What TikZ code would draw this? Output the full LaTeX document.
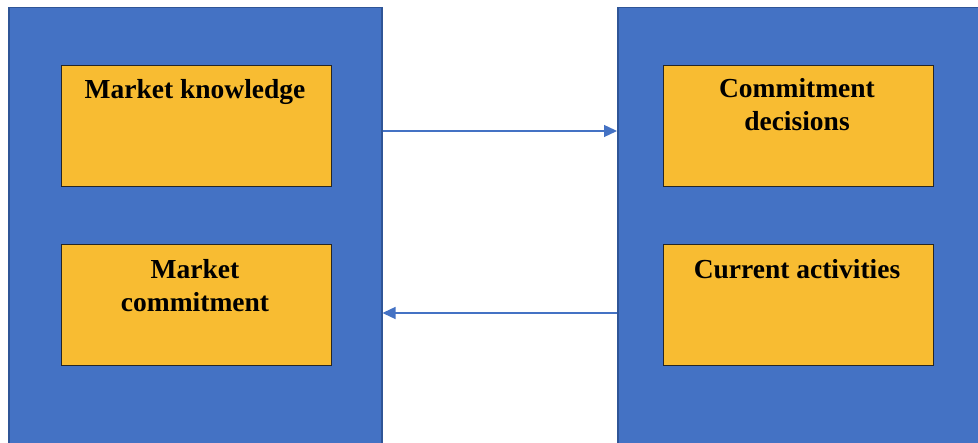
\documentclass[tikz,border=0pt]{standalone}
\usepackage{fontspec}
\setmainfont{Liberation Serif}
\usetikzlibrary{arrows.meta}
\usetikzlibrary{positioning}
\definecolor{panelblue}{HTML}{4472C4}
\definecolor{paneledge}{HTML}{2F5597}
\definecolor{boxyellow}{HTML}{F8BC32}
\tikzset{panel/.style = {draw=paneledge, line width=1.5pt, fill=panelblue,
                         anchor=north west, inner sep=0pt},
         factor/.style = {draw=black!85, line width=1.4pt, fill=boxyellow,
                          anchor=north west, inner sep=0pt,
                          minimum width=270pt, minimum height=121pt},
         title/.style = {font=\bfseries\fontsize{27.5}{33}\selectfont,
                         align=center, inner sep=0pt, anchor=base},
         link/.style = {draw=panelblue, line width=1.3pt,
                        -{Triangle[length=13pt, width=12pt]}}}

\begin{document}
\begin{tikzpicture}[x=1pt, y=-1pt]
      \useasboundingbox (0, 0) rectangle (978, 443);
      \clip (0, 0) rectangle (978, 443);

      % state and change aspects
      \node [panel, minimum width=373pt, minimum height=450pt] (state) at (8, 7) {};
      \node [panel, minimum width=370pt, minimum height=450pt] (change) at (617, 7) {};

      \node [factor] (know) at (61, 65) {};
      \node [factor] (mcom) at (61, 244) {};
      \node [factor] (cdec) at (663, 65) {};
      \node [factor] (cact) at (663, 244) {};

      % two-line titles sit on the baseline of their last line
      \node [title] (knowtxt) at (195, 99) {Market knowledge};
      \node [title] (mcomtxt) at (195, 312) {Market\\commitment};
      \node [title] (cdectxt) at (797, 131) {Commitment\\decisions};
      \node [title] (cacttxt) at (797, 279) {Current activities};

      \draw [link] (state.east |- 0, 131) -- (change.west |- 0, 131);
      \draw [link] (change.west |- 0, 313) -- (state.east |- 0, 313);
    \end{tikzpicture}
\end{document}
